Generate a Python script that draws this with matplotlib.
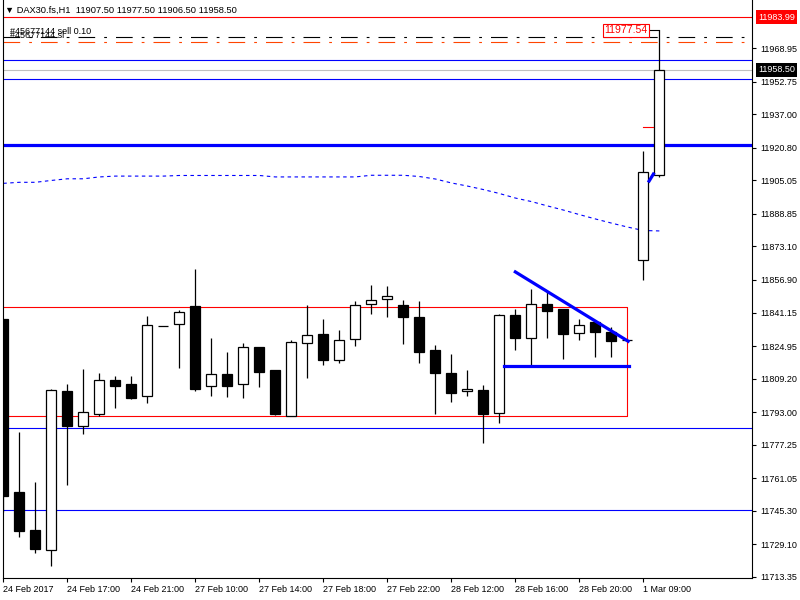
import matplotlib
matplotlib.use('Agg')
import matplotlib.pyplot as plt
import numpy as np

plt.rcParams['lines.scale_dashes'] = False
FONT = ['Liberation Sans', 'DejaVu Sans']
plt.rcParams['font.family'] = FONT

# ---------------- data ----------------
opens = [11838.0, 11754.3, 11736.1, 11726.2, 11803.2, 11786.2, 11792.3, 11808.4, 11806.5, 11800.7,
         11834.5, 11835.5, 11844.2, 11805.5, 11811.3, 11806.5, 11824.4, 11813.4, 11791.0, 11826.3,
         11830.6, 11818.1, 11828.2, 11845.1, 11847.6, 11844.7, 11838.9, 11822.9, 11811.8, 11803.1,
         11803.6, 11792.5, 11839.8, 11829.0, 11845.1, 11842.9, 11831.4, 11836.4, 11831.6, 11827.7,
         11866.4, 11907.5]
highs = [11838.0, 11783.3, 11759.3, 11804.2, 11806.6, 11813.9, 11811.9, 11810.5, 11810.5, 11839.5,
         11834.5, 11842.2, 11862.2, 11828.9, 11822.1, 11826.4, 11824.4, 11813.4, 11827.9, 11844.8,
         11837.9, 11832.6, 11846.6, 11854.5, 11853.8, 11847.1, 11846.6, 11825.3, 11821.0, 11813.2,
         11806.0, 11840.5, 11842.7, 11852.5, 11850.9, 11842.9, 11838.0, 11836.4, 11834.0, 11827.7,
         11919.2, 11977.5]
lows = [11744.8, 11732.5, 11725.1, 11718.8, 11758.0, 11782.3, 11791.3, 11795.2, 11799.5, 11797.6,
        11834.5, 11814.5, 11803.4, 11801.0, 11800.5, 11800.0, 11805.3, 11791.8, 11791.0, 11809.7,
        11816.0, 11816.9, 11825.1, 11840.6, 11839.2, 11826.1, 11816.9, 11792.3, 11798.1, 11801.0,
        11778.3, 11787.9, 11823.1, 11815.0, 11829.0, 11818.7, 11827.9, 11819.8, 11819.8, 11827.7,
        11857.0, 11906.5]
closes = [11752.5, 11735.7, 11727.0, 11803.7, 11786.5, 11792.9, 11808.4, 11805.8, 11800.0, 11835.0,
          11834.5, 11841.3, 11804.4, 11811.3, 11805.8, 11824.4, 11812.6, 11792.3, 11826.8, 11830.2,
          11818.4, 11827.7, 11844.7, 11847.1, 11849.0, 11839.2, 11822.2, 11812.1, 11802.4, 11804.1,
          11792.3, 11839.8, 11829.0, 11845.1, 11841.9, 11830.9, 11835.0, 11831.9, 11827.6, 11827.7,
          11908.9, 11958.5]
ma = [11903.6, 11904.1, 11904.1, 11905.0, 11905.8, 11905.8, 11906.7, 11907.1, 11907.1, 11907.1,
      11907.1, 11907.4, 11907.4, 11907.4, 11907.4, 11907.4, 11907.4, 11906.7, 11906.7, 11906.7,
      11906.7, 11906.7, 11906.7, 11907.5, 11907.5, 11907.5, 11906.9, 11905.7, 11903.8, 11902.3,
      11900.6, 11898.7, 11896.5, 11894.8, 11892.7, 11890.7, 11888.5, 11886.4, 11884.4, 11882.5,
      11880.8, 11880.6]

date_labels = ['24 Feb 2017', '24 Feb 17:00', '24 Feb 21:00', '27 Feb 10:00', '27 Feb 14:00',
               '27 Feb 18:00', '27 Feb 22:00', '28 Feb 12:00', '28 Feb 16:00', '28 Feb 20:00',
               '1 Mar 09:00']
price_ticks = [11968.95, 11952.75, 11937.00, 11920.80, 11905.05, 11888.85, 11873.10, 11856.90,
               11841.15, 11824.95, 11809.20, 11793.00, 11777.25, 11761.05, 11745.30, 11729.10,
               11713.35]

# horizontal levels
level_red = 11983.99
level_trade = 11974.3
level_sl = 11971.9
level_blue_hi = 11963.1
level_bid = 11958.50
level_blue_lo = 11953.9
level_thick = 11922.0
level_blue_a = 11785.2
level_blue_b = 11745.6
rect_top, rect_bot, rect_right = 11843.7, 11791.0, 39.0
support_y, support_x = 11815.2, (31.3, 39.1)
trend_x, trend_y = (32.0, 39.05), (11860.8, 11827.3)
small_x, small_y = (40.36, 40.63), (11904.7, 11908.1)
marker_x, marker_y = (40.0, 40.59), 11930.7
high_label = '11977.54'

# ---------------- figure ----------------
fig = plt.figure(figsize=(8, 6), dpi=100)
ax = fig.add_axes([3/800, 22/600, 749.3/800, 578/600])
ax.set_xlim(-0.02, 46.81)
ax.set_ylim(11712.86, 11992.21)

idx = np.arange(len(opens))
o = np.array(opens); c = np.array(closes)
h = np.array(highs); l = np.array(lows)

thin = 0.8
ax.axhline(level_red, color='#FF0000', lw=thin, zorder=1)
dashdot = (0, (12, 6.5, 2, 6.5))
ax.axhline(level_trade, color='black', lw=thin, ls=dashdot, zorder=1)
ax.axhline(level_sl, color='#FF4500', lw=thin, ls=dashdot, zorder=1)
ax.axhline(level_blue_hi, color='#0000FF', lw=thin, zorder=1)
ax.axhline(level_bid, color='#C0C0C0', lw=thin, zorder=1)
ax.axhline(level_blue_lo, color='#0000FF', lw=thin, zorder=1)
ax.axhline(level_thick, color='#0000FF', lw=2.3, zorder=1)
ax.axhline(level_blue_a, color='#0000FF', lw=thin, zorder=1)
ax.axhline(level_blue_b, color='#0000FF', lw=thin, zorder=1)

ax.plot([-1, rect_right, rect_right, -1], [rect_top, rect_top, rect_bot, rect_bot],
        color='#FF0000', lw=thin, zorder=1)

ax.plot(idx, ma, color='#0000FF', lw=thin, ls=(0, (2.5, 2.5)), zorder=1.5)

ax.plot(support_x, [support_y, support_y], color='#0000FF', lw=2.3, zorder=4)
ax.plot(trend_x, trend_y, color='#0000FF', lw=2.3, zorder=4)
ax.plot(small_x, small_y, color='#0000FF', lw=2.3, zorder=4)
ax.plot(marker_x, [marker_y, marker_y], color='#FF0000', lw=thin, zorder=4)

# candles
ax.vlines(idx, l, h, color='black', lw=0.9, zorder=2)
colors = ['white' if cc > oo else 'black' for oo, cc in zip(o, c)]
ax.bar(idx, np.abs(c - o), bottom=np.minimum(o, c), width=0.64, color=colors,
       edgecolor='black', linewidth=0.9, zorder=3)

# high pointer + label
ax.plot([40.42, idx[-1]], [highs[-1], highs[-1]], color='black', lw=thin, zorder=4)
ax.text(38.92, 11977.47, high_label, color='#FF0000', ha='center', va='center', fontsize=7.6,
        zorder=5, bbox=dict(boxstyle='square,pad=0.12', fc='white', ec='#FF0000', lw=0.8))

# trade texts
ax.text(0.42, 11977.0, '#45677144 sell 0.10', fontsize=6.5, ha='left', va='center', zorder=5)
ax.text(0.42, 11975.0, '#45677144 sl', fontsize=6.5, ha='left', va='center', zorder=5)

# header
fig.text(5/800, 1 - 10/600, '\u25bc DAX30.fs,H1  11907.50 11977.50 11906.50 11958.50',
         fontsize=6.7, ha='left', va='center', family=FONT)

# axes styling
for s in ['left', 'bottom', 'right']:
    ax.spines[s].set_color('black')
    ax.spines[s].set_linewidth(0.8)
ax.spines['top'].set_visible(False)

ax.yaxis.tick_right()
ax.set_yticks(price_ticks)
ax.set_yticklabels(['%.2f' % v for v in price_ticks])
ax.tick_params(axis='y', direction='out', length=3, width=0.8, pad=3, labelsize=6.5,
               left=False, right=True, labelleft=False, labelright=True)

ax.set_xticks(idx[::4])
ax.set_xticklabels(date_labels, ha='left')
ax.tick_params(axis='x', direction='out', length=3, width=0.8, pad=2, labelsize=6.5)

# axis value boxes
ax.annotate('%.2f' % level_red, xy=(1, level_red), xycoords=('axes fraction', 'data'),
            xytext=(6, 0), textcoords='offset pixels', ha='left', va='center',
            fontsize=6.5, color='white', annotation_clip=False,
            bbox=dict(boxstyle='square,pad=0.25', fc='#FF0000', ec='none'))
ax.annotate('%.2f' % level_bid, xy=(1, level_bid), xycoords=('axes fraction', 'data'),
            xytext=(6, 0), textcoords='offset pixels', ha='left', va='center',
            fontsize=6.5, color='white', annotation_clip=False,
            bbox=dict(boxstyle='square,pad=0.25', fc='black', ec='none'))

fig.savefig('out.png', dpi=100, facecolor='white')
